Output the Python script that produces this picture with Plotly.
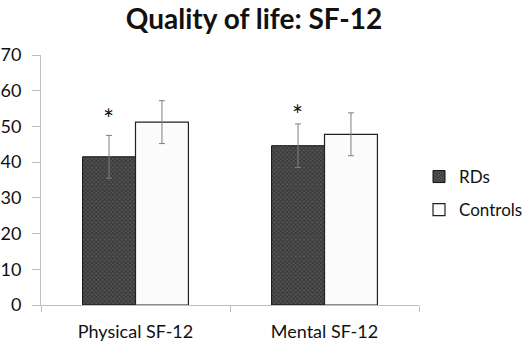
import plotly.graph_objects as go

categories = ["Physical SF-12", "Mental SF-12"]
series_names = ["RDs", "Controls"]
rds_mean = [41.5, 44.6]
rds_sd = [6.0, 6.1]
ctrl_mean = [51.2, 47.8]
ctrl_sd = [6.0, 6.0]
asterisk_y = [53.8, 55.0]
y_ticks = [0, 10, 20, 30, 40, 50, 60, 70]

FONT = "Lato"

fig = go.Figure()
fig.add_trace(go.Bar(
    name=series_names[0], x=categories, y=rds_mean, legendgroup="a",
    marker=dict(color="#3a3a3a", line=dict(color="#111111", width=1),
                pattern=dict(shape="x", size=3, solidity=0.5, fgcolor="#151515", bgcolor="#555555")),
    error_y=dict(type="data", array=rds_sd, color="#7f7f7f", thickness=1, width=3),
))
fig.add_trace(go.Bar(
    name=series_names[1], x=categories, y=ctrl_mean, legendgroup="b",
    marker=dict(color="#fbfbfb", line=dict(color="#222222", width=1.2)),
    error_y=dict(type="data", array=ctrl_sd, color="#7f7f7f", thickness=1, width=3),
))

for cat, ay in zip(categories, asterisk_y):
    fig.add_annotation(x=cat, y=ay, text="*", showarrow=False, xshift=-27.5, yshift=-6,
                       font=dict(family=FONT, size=26, color="#111"), yanchor="middle")

fig.update_layout(
    width=526, height=343,
    margin=dict(l=41, r=107, t=55, b=38, autoexpand=False),
    paper_bgcolor="white", plot_bgcolor="white",
    barmode="group", bargap=0.44, bargroupgap=0,
    title=dict(text="<b>Quality of life: SF-12</b>", x=254/526, xanchor="center", y=0.945, yanchor="middle",
               font=dict(family=FONT, size=28, color="#111")),
    font=dict(family=FONT, size=18, color="#111"),
    showlegend=True,
    legend=dict(xref="container", yref="container", x=419/526, xanchor="left", y=(343-193.5)/343, yanchor="middle",
                font=dict(family=FONT, size=17, color="#111"), itemwidth=30, tracegroupgap=8),
    xaxis=dict(showline=True, linecolor="#bfbfbf", linewidth=1, ticks="outside", tickson="boundaries",
               ticklen=6, tickcolor="#bfbfbf", showgrid=False, tickfont=dict(size=18), automargin=False,
               ticklabelstandoff=10),
    yaxis=dict(range=[0, 70], tickvals=y_ticks, showline=True, linecolor="#bfbfbf", linewidth=1,
               ticks="outside", ticklen=8, tickcolor="#bfbfbf", showgrid=False, zeroline=False,
               tickfont=dict(size=18), automargin=False, ticklabelstandoff=7),
)

fig.write_html("out.html", config={"displayModeBar": False},
               post_script="document.body.style.margin='0';document.body.style.overflow='hidden';")
